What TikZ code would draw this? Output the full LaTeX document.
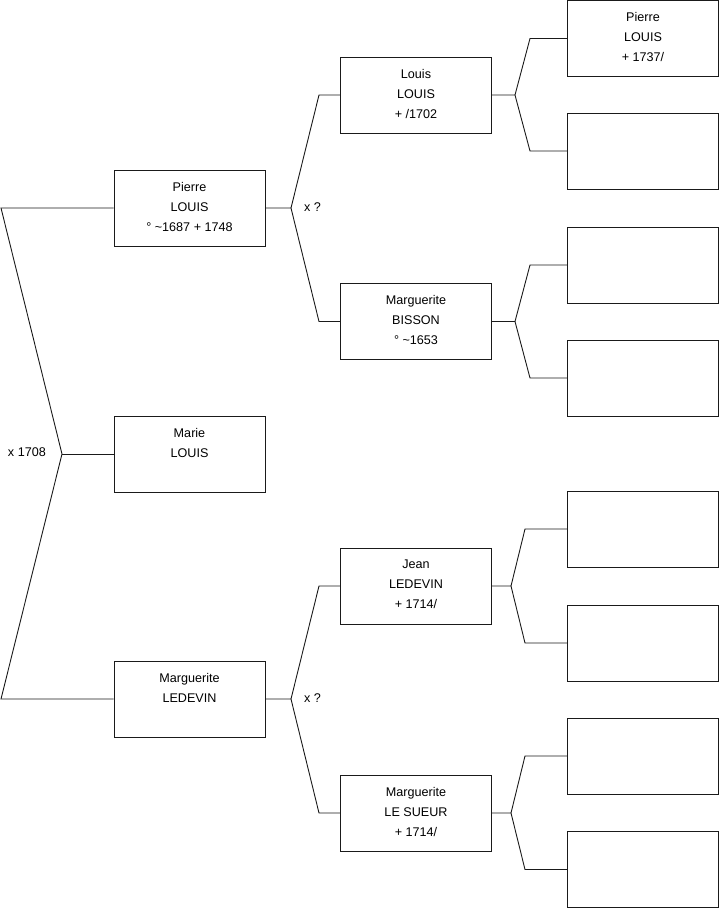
\documentclass[tikz,border=0pt]{standalone}
\usepackage{fontspec}
\setmainfont{Liberation Sans}
\usetikzlibrary{positioning}
\definecolor{ink}{HTML}{1A1A1A}
\definecolor{paper}{HTML}{FFFFFF}
\tikzset{
  personbox/.style={draw=ink,fill=paper,line width=0.9pt,minimum width=151pt,minimum height=76pt,inner sep=0pt,align=center,text depth=3pt,font=\fontsize{12.6}{20}\selectfont},
  twolinebox/.style={personbox,text depth=23pt},
  emptybox/.style={draw=ink,fill=paper,line width=0.9pt,minimum width=151pt,minimum height=76pt,inner sep=0pt},
  link/.style={draw=ink,line width=0.9pt},
  unionlbl/.style={inner sep=0pt,font=\fontsize{12.6}{14}\selectfont}
}
\begin{document}
\begin{tikzpicture}[x=1pt,y=-1pt]
  \useasboundingbox (0,0) rectangle (719,908);
  % generation 1 and 2
  \node[twolinebox] (marie) at (189.5,454) {Marie\\LOUIS};
  \node[personbox] (pierre) at (189.5,208) {Pierre\\LOUIS\\° \textasciitilde1687 + 1748};
  \node[twolinebox] (margledevin) at (189.5,699) {Marguerite\\LEDEVIN};
  % generation 3
  \node[personbox] (louis) at (416,95) {Louis\\LOUIS\\+ /1702};
  \node[personbox] (bisson) at (416,321.5) {Marguerite\\BISSON\\° \textasciitilde1653};
  \node[personbox] (jean) at (416,586) {Jean\\LEDEVIN\\+ 1714/};
  \node[personbox] (lesueur) at (416,813) {Marguerite\\LE SUEUR\\+ 1714/};
  % generation 4
  \node[personbox] (pierrelouis) at (643,38.5) {Pierre\\LOUIS\\+ 1737/};
  \node[emptybox] (louismother) at (643,151) {};
  \node[emptybox] (bissonfather) at (643,265) {};
  \node[emptybox] (bissonmother) at (643,378) {};
  \node[emptybox] (jeanfather) at (643,529) {};
  \node[emptybox] (jeanmother) at (643,643) {};
  \node[emptybox] (lesueurfather) at (643,756) {};
  \node[emptybox] (lesueurmother) at (643,869.5) {};

  % parents of Marie
  \coordinate (rootfork) at (62,454);
  \coordinate (roottop) at (1,208);
  \coordinate (rootbot) at (1,699);
  \draw[link] (pierre.west) -- (roottop) -- (rootfork) -- (rootbot) -- (margledevin.west);
  \draw[link] (rootfork) -- (marie.west);
  \node[unionlbl,anchor=east] (union1) at (46,452) {x 1708};

  % parents of Pierre
  \coordinate (pfork) at (291,208);
  \coordinate (ptop) at (319,95);
  \coordinate (pbot) at (319,321.5);
  \draw[link] (pierre.east) -- (pfork) -- (ptop) -- (louis.west);
  \draw[link] (pfork) -- (pbot) -- (bisson.west);
  \node[unionlbl,anchor=west] (union2) at (304,207) {x ?};

  % parents of Marguerite
  \coordinate (mfork) at (291,699);
  \coordinate (mtop) at (319,586);
  \coordinate (mbot) at (319,813);
  \draw[link] (margledevin.east) -- (mfork) -- (mtop) -- (jean.west);
  \draw[link] (mfork) -- (mbot) -- (lesueur.west);
  \node[unionlbl,anchor=west] (union3) at (304,698) {x ?};

  % generation 4 links
  \coordinate (lfork) at (515,95);
  \coordinate (ltop) at (530,38.5);
  \coordinate (lbot) at (530,151);
  \draw[link] (louis.east) -- (lfork) -- (ltop) -- (pierrelouis.west);
  \draw[link] (lfork) -- (lbot) -- (louismother.west);

  \coordinate (bfork) at (515,321.5);
  \coordinate (btop) at (530,265);
  \coordinate (bbot) at (530,378);
  \draw[link] (bisson.east) -- (bfork) -- (btop) -- (bissonfather.west);
  \draw[link] (bfork) -- (bbot) -- (bissonmother.west);

  \coordinate (jfork) at (511,586);
  \coordinate (jtop) at (525,529);
  \coordinate (jbot) at (525,643);
  \draw[link] (jean.east) -- (jfork) -- (jtop) -- (jeanfather.west);
  \draw[link] (jfork) -- (jbot) -- (jeanmother.west);

  \coordinate (sfork) at (511,813);
  \coordinate (stop) at (525,756);
  \coordinate (sbot) at (525,869.5);
  \draw[link] (lesueur.east) -- (sfork) -- (stop) -- (lesueurfather.west);
  \draw[link] (sfork) -- (sbot) -- (lesueurmother.west);
\end{tikzpicture}
\end{document}
